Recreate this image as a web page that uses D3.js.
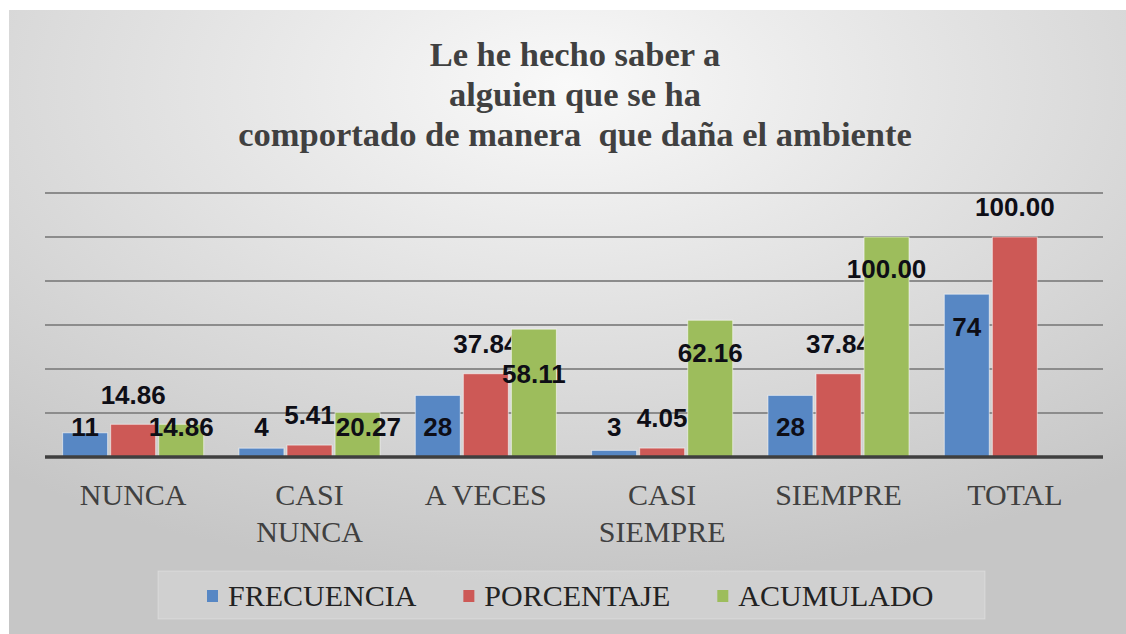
<!DOCTYPE html>
<html>
<head>
<meta charset="utf-8">
<script src="https://cdn.jsdelivr.net/npm/d3@7"></script>
<style>
  body { margin: 0; background: #fff; }
  svg { display: block; }
  .serif { font-family: "Liberation Serif", "DejaVu Serif", "Times New Roman", serif; }
  .sans { font-family: "Liberation Sans", Arial, sans-serif; }
</style>
</head>
<body>
<script>
const width = 1126;
const height = 634;

// data
const categories = [["NUNCA"], ["CASI", "NUNCA"], ["A VECES"], ["CASI", "SIEMPRE"], ["SIEMPRE"], ["TOTAL"]];
const seriesNames = ["FRECUENCIA", "PORCENTAJE", "ACUMULADO"];
const frecuencia = [11, 4, 28, 3, 28, 74];
const porcentaje = [14.86, 5.41, 37.84, 4.05, 37.84, 100.00];
const acumulado = [14.86, 20.27, 58.11, 62.16, 100.00, null];
const yTicks = [0, 20, 40, 60, 80, 100, 120];
const titleLines = ["Le he hecho saber a", "alguien que se ha", "comportado de manera  que daña el ambiente"];

const colors = ["#5787c4", "#cd5956", "#9dbd5c"];
const labelFmt = [d => d3.format("d")(d), d => d.toFixed(2), d => d.toFixed(2)];
// blue and green labels sit inside the bar end, red ones above it
const labelInside = [true, false, true];

const svg = d3.select("body")
	.append("svg")
	.attr("width", width)
	.attr("height", height);

const defs = svg.append("defs");
const bg = defs.append("radialGradient")
	.attr("id", "bg")
	.attr("cx", "50%").attr("cy", "12%").attr("r", "80%");
bg.append("stop").attr("offset", "0%").attr("stop-color", "#f9f9f9");
bg.append("stop").attr("offset", "100%").attr("stop-color", "#c6c6c6");

svg.append("rect")
	.attr("x", 9).attr("y", 10)
	.attr("width", width - 9).attr("height", height - 10)
	.attr("fill", "url(#bg)");

const plot = { left: 45, right: 1103, top: 193, bottom: 457 };

const x0 = d3.scaleBand()
	.domain(d3.range(categories.length))
	.range([plot.left, plot.right])
	.paddingInner(0.2)
	.paddingOuter(0.1);

const x1 = d3.scaleBand()
	.domain(d3.range(seriesNames.length))
	.range([0, x0.bandwidth()])
	.paddingInner(0.064);

const y = d3.scaleLinear()
	.domain([0, 120])
	.range([plot.bottom, plot.top]);

// gridlines
svg.append("g")
	.selectAll("line")
	.data(yTicks.filter(t => t > 0))
	.enter()
	.append("line")
	.attr("x1", plot.left).attr("x2", plot.right)
	.attr("y1", d => y(d)).attr("y2", d => y(d))
	.style("stroke", "#8c8c8c")
	.style("stroke-width", 2);

const allSeries = [frecuencia, porcentaje, acumulado];

const groups = svg.append("g")
	.selectAll("g")
	.data(allSeries)
	.enter()
	.append("g");

groups.selectAll("rect")
	.data((s, si) => s.map((v, ci) => ({ v, ci, si })).filter(d => d.v != null))
	.enter()
	.append("rect")
	.attr("x", d => x0(d.ci) + x1(d.si))
	.attr("width", x1.bandwidth())
	.attr("y", d => y(d.v))
	.attr("height", d => y(0) - y(d.v))
	.attr("fill", d => colors[d.si])
	.style("stroke", "rgba(255,255,255,0.55)")
	.style("stroke-width", 1);

// axis line
svg.append("line")
	.attr("x1", plot.left).attr("x2", plot.right)
	.attr("y1", y(0)).attr("y2", y(0))
	.style("stroke", "#3f3f3f")
	.style("stroke-width", 3.5);

// data labels
const lowest = y(0) - 30;
const labels = groups.selectAll("text")
	.data((s, si) => s.map((v, ci) => ({ v, ci, si })).filter(d => d.v != null))
	.enter()
	.append("text")
	.attr("class", "sans")
	.attr("x", d => x0(d.ci) + x1(d.si) + x1.bandwidth() / 2)
	.attr("y", d => labelInside[d.si]
		? Math.min(y(d.v) + 32, lowest)
		: y(d.v) - 30)
	.attr("dy", "0.36em")
	.attr("text-anchor", "middle")
	.style("font-weight", "bold")
	.style("font-size", "26px")
	.style("fill", "#0e0e16")
	.text(d => labelFmt[d.si](d.v));

// keep the green labels clear of the red ones (push down, else sideways)
categories.forEach(function(c, ci) {
	const red = labels.filter(d => d.ci === ci && d.si === 1);
	const green = labels.filter(d => d.ci === ci && d.si === 2);
	if (red.empty() || green.empty()) return;
	const rb = red.node().getBBox(), gb = green.node().getBBox();
	const ry = +red.attr("y"), gy = +green.attr("y");
	const xOver = rb.x + rb.width - gb.x;
	if (xOver > 0 && Math.abs(gy - ry) < 26) {
		if (ry + 30 <= lowest) green.attr("y", Math.max(gy, ry + 30));
		else green.attr("x", +green.attr("x") + xOver + 1);
	}
});

// category labels
const cat = svg.append("g")
	.selectAll("text")
	.data(categories)
	.enter()
	.append("text")
	.attr("class", "serif")
	.attr("x", (d, i) => x0(i) + x0.bandwidth() / 2)
	.attr("y", 505)
	.attr("text-anchor", "middle")
	.style("font-size", "30px")
	.style("fill", "#404040");

cat.selectAll("tspan")
	.data(d => d)
	.enter()
	.append("tspan")
	.attr("x", function() { return d3.select(this.parentNode).attr("x"); })
	.attr("dy", (d, i) => i === 0 ? 0 : 37)
	.text(d => d);

// title
svg.append("g")
	.selectAll("text")
	.data(titleLines)
	.enter()
	.append("text")
	.attr("class", "serif")
	.attr("x", 575)
	.attr("y", (d, i) => 66 + i * 40)
	.attr("text-anchor", "middle")
	.style("font-weight", "bold")
	.style("font-size", "34.5px")
	.style("fill", "#404040")
	.style("white-space", "pre")
	.text(d => d);

// legend
svg.append("rect")
	.attr("x", 158).attr("y", 571)
	.attr("width", 827).attr("height", 48)
	.attr("fill", "rgba(255,255,255,0.18)")
	.style("stroke", "rgba(255,255,255,0.25)");

const legend = svg.append("g");
let lx = 207;
seriesNames.forEach(function(name, i) {
	legend.append("rect")
		.attr("x", lx).attr("y", 590)
		.attr("width", 11).attr("height", 12)
		.attr("fill", colors[i]);
	const t = legend.append("text")
		.attr("class", "serif")
		.attr("x", lx + 21)
		.attr("y", 606)
		.style("font-size", "30px")
		.style("fill", "#222")
		.text(name);
	lx += 21 + t.node().getComputedTextLength() + 47;
});
</script>
</body>
</html>
